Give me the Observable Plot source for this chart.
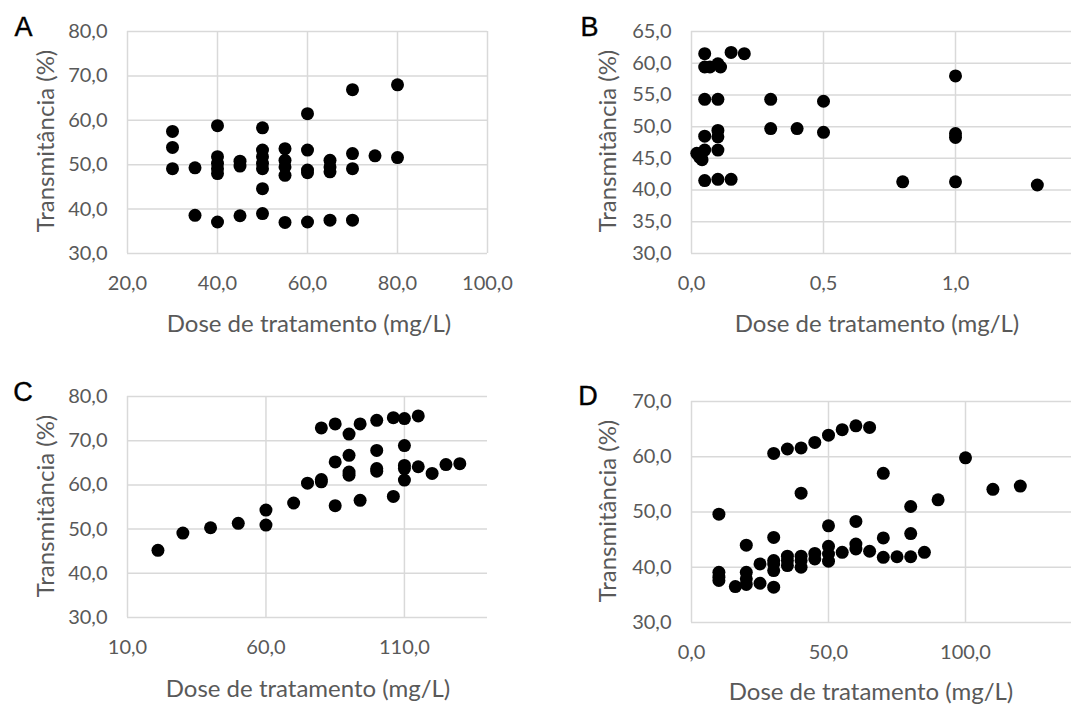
<!DOCTYPE html>
<html><head><meta charset="utf-8">
<script src="https://cdn.jsdelivr.net/npm/d3@7"></script>
<script src="https://cdn.jsdelivr.net/npm/@observablehq/plot@0.6"></script>
<style>
html,body{margin:0;padding:0;width:1071px;height:704px;overflow:hidden;background:#fff;}
#root{position:relative;width:1071px;height:704px;overflow:hidden;}
.panel{position:absolute;}
.lbl{position:absolute;font-family:Lato,sans-serif;color:#595959;white-space:nowrap;font-size:24px;line-height:1;}
.ytitle{transform:translate(-50%,-50%) rotate(-90deg);}
.xtitle{transform:translate(-50%,-50%);}
.letter{position:absolute;font-family:"Liberation Sans",Arial,sans-serif;font-size:27px;color:#000;line-height:1;transform:translate(-50%,-50%);-webkit-text-stroke:0.4px #000;}
</style>
</head><body><div id="root"></div>
<script>
// Panel A
const aDose  = [30,30,30, 35,35, 40,40,40,40,40,40, 45,45,45, 50,50,50,50,50,50,50, 55,55,55,55,55, 60,60,60,60,60, 65,65,65,65, 70,70,70,70, 75, 80,80];
const aTrans = [57.5,53.9,49.1, 49.3,38.6, 58.8,51.8,50.3,49.1,48.0,37.1, 50.8,49.7,38.5, 58.3,53.3,51.8,50.3,49.1,44.6,39.0, 53.6,51.0,49.5,47.6,37.0, 61.5,53.3,48.8,48.2,37.1, 51.0,49.5,48.4,37.5, 66.9,52.5,49.1,37.5, 52.0, 68.0,51.6];
const aXTicks = [20,40,60,80,100];
const aYTicks = [30,40,50,60,70,80];
// Panel B
const bDose  = [0.05,0.05,0.07,0.1,0.11, 0.15,0.2, 0.05,0.1,0.3,0.5, 0.3,0.4,0.5, 0.05,0.1,0.1, 0.02,0.03,0.05,0.04, 0.1, 0.05,0.1,0.15, 0.8, 1.0,1.0,1.0,1.0, 1.31];
const bTrans = [61.5,59.4,59.4,59.9,59.4, 61.7,61.5, 54.3,54.3,54.3,54.0, 49.7,49.7,49.1, 48.5,49.4,48.4, 45.8,45.2,46.3,44.8, 46.3, 41.5,41.7,41.7, 41.3, 58.0,48.9,48.3,41.3, 40.8];
const bXTicks = [0,0.5,1.0];
const bYTicks = [30,35,40,45,50,55,60,65];
// Panel C
const cDose  = [21,30,40,50, 60,60, 70,75, 80,80,80, 85,85,85, 90,90,90,90, 94,94, 100,100,100,100, 106,106, 110,110,110,110,110, 115,115, 120,125,130];
const cTrans = [45.2,49.1,50.3,51.3, 54.3,50.9, 55.9,60.4, 72.9,61.2,60.7, 73.8,65.2,55.3, 71.5,66.7,62.9,62.2, 73.8,56.5, 74.6,67.8,63.7,63.1, 75.2,57.4, 75.0,68.9,64.4,63.7,61.1, 75.6,64.1, 62.6,64.6,64.8];
const cXTicks = [10,60,110];
const cYTicks = [30,40,50,60,70,80];
// Panel D
const dDose  = [10,10,10,10, 16, 20,20,20,20, 25,25, 30,30,30,30,30,30, 35,35,35,35, 40,40,40,40,40, 45,45,45, 50,50,50,50,50, 55,55, 60,60,60,60, 65,65, 70,70,70, 75, 80,80,80, 85, 90, 100, 110, 120];
const dTrans = [49.6,39.1,38.2,37.6, 36.5, 44.0,39.1,37.9,36.9, 40.6,37.1, 60.6,45.4,41.2,40.6,39.4,36.4, 61.4,42.0,41.2,40.3, 61.6,53.4,42.0,41.2,40.0, 62.6,42.5,41.5, 63.9,47.5,43.8,42.4,41.1, 64.9,42.7, 65.6,48.3,44.2,43.3, 65.3,42.9, 57.0,45.3,41.8, 41.9, 51.0,46.1,41.9, 42.7, 52.2, 59.8, 54.1, 54.7];
const dXTicks = [0,50,100];
const dYTicks = [30,40,50,60,70];

const xTitle = "Dose de tratamento (mg/L)";
const yTitle = "Transmitância (%)";
const letters = ["A","B","C","D"];

const fmt = d => d.toFixed(1).replace(".", ",");
const root = document.getElementById("root");

function panel(o) {
  const data = o.dose.map((x, i) => ({x, y: o.trans[i]}));
  const chart = Plot.plot({
    width: o.width, height: o.height,
    marginLeft: o.ml, marginRight: o.mr, marginTop: o.mt, marginBottom: o.mb,
    style: {fontFamily: "Lato, sans-serif", fontSize: "20px", color: "#595959", background: "transparent", overflow: "visible"},
    x: {domain: o.xDomain},
    y: {domain: o.yDomain},
    marks: [
      Plot.gridY(o.yTicks, {stroke: "#d9d9d9", strokeOpacity: 1, strokeWidth: 1.5}),
      Plot.gridX(o.xGrid, {stroke: "#d9d9d9", strokeOpacity: 1, strokeWidth: 1.5}),
      Plot.axisX(o.xTicks, {tickFormat: fmt, tickSize: 0, tickPadding: 22, label: null, fill: "#595959"}),
      Plot.axisY(o.yTicks, {tickFormat: fmt, tickSize: 0, tickPadding: 20, label: null, fill: "#595959"}),
      Plot.dot(data, {x: "x", y: "y", r: 6.5, fill: "#000", stroke: null})
    ]
  });
  chart.classList.add("panel");
  chart.style.left = o.left + "px";
  chart.style.top = o.top + "px";
  root.appendChild(chart);

  const yt = document.createElement("div");
  yt.className = "lbl ytitle"; yt.textContent = yTitle;
  yt.style.left = o.yt[0] + "px"; yt.style.top = o.yt[1] + "px";
  root.appendChild(yt);
  const xt = document.createElement("div");
  xt.className = "lbl xtitle"; xt.textContent = xTitle;
  xt.style.left = o.xt[0] + "px"; xt.style.top = o.xt[1] + "px";
  root.appendChild(xt);
  const lt = document.createElement("div");
  lt.className = "letter"; lt.textContent = o.letter;
  lt.style.left = o.lt[0] + "px"; lt.style.top = o.lt[1] + "px";
  root.appendChild(lt);
}

panel({dose: aDose, trans: aTrans, xDomain: [20,100], yDomain: [30,80], xTicks: aXTicks, xGrid: aXTicks, yTicks: aYTicks,
  left: 0, top: 0, width: 540, height: 340, ml: 127, mr: 53, mt: 31, mb: 87,
  yt: [45,141], xt: [309,323], lt: [23.5,27], letter: letters[0]});
panel({dose: bDose, trans: bTrans, xDomain: [0,1.5], yDomain: [30,65], xTicks: bXTicks, xGrid: bXTicks, yTicks: bYTicks,
  left: 530, top: 0, width: 557, height: 340, ml: 161, mr: 0, mt: 31, mb: 87,
  yt: [607,141], xt: [877,323], lt: [589.5,27], letter: letters[1]});
panel({dose: cDose, trans: cTrans, xDomain: [10,140], yDomain: [30,80], xTicks: cXTicks, xGrid: cXTicks, yTicks: cYTicks,
  left: 0, top: 340, width: 540, height: 364, ml: 127, mr: 53, mt: 56, mb: 87,
  yt: [45,506], xt: [308,688], lt: [23,392], letter: letters[2]});
panel({dose: dDose, trans: dTrans, xDomain: [0,150], yDomain: [30,70], xTicks: dXTicks, xGrid: dXTicks, yTicks: dYTicks,
  left: 530, top: 340, width: 572, height: 364, ml: 161, mr: 0, mt: 61, mb: 82,
  yt: [607,511], xt: [871,691], lt: [588,395.5], letter: letters[3]});
</script>
</body></html>
